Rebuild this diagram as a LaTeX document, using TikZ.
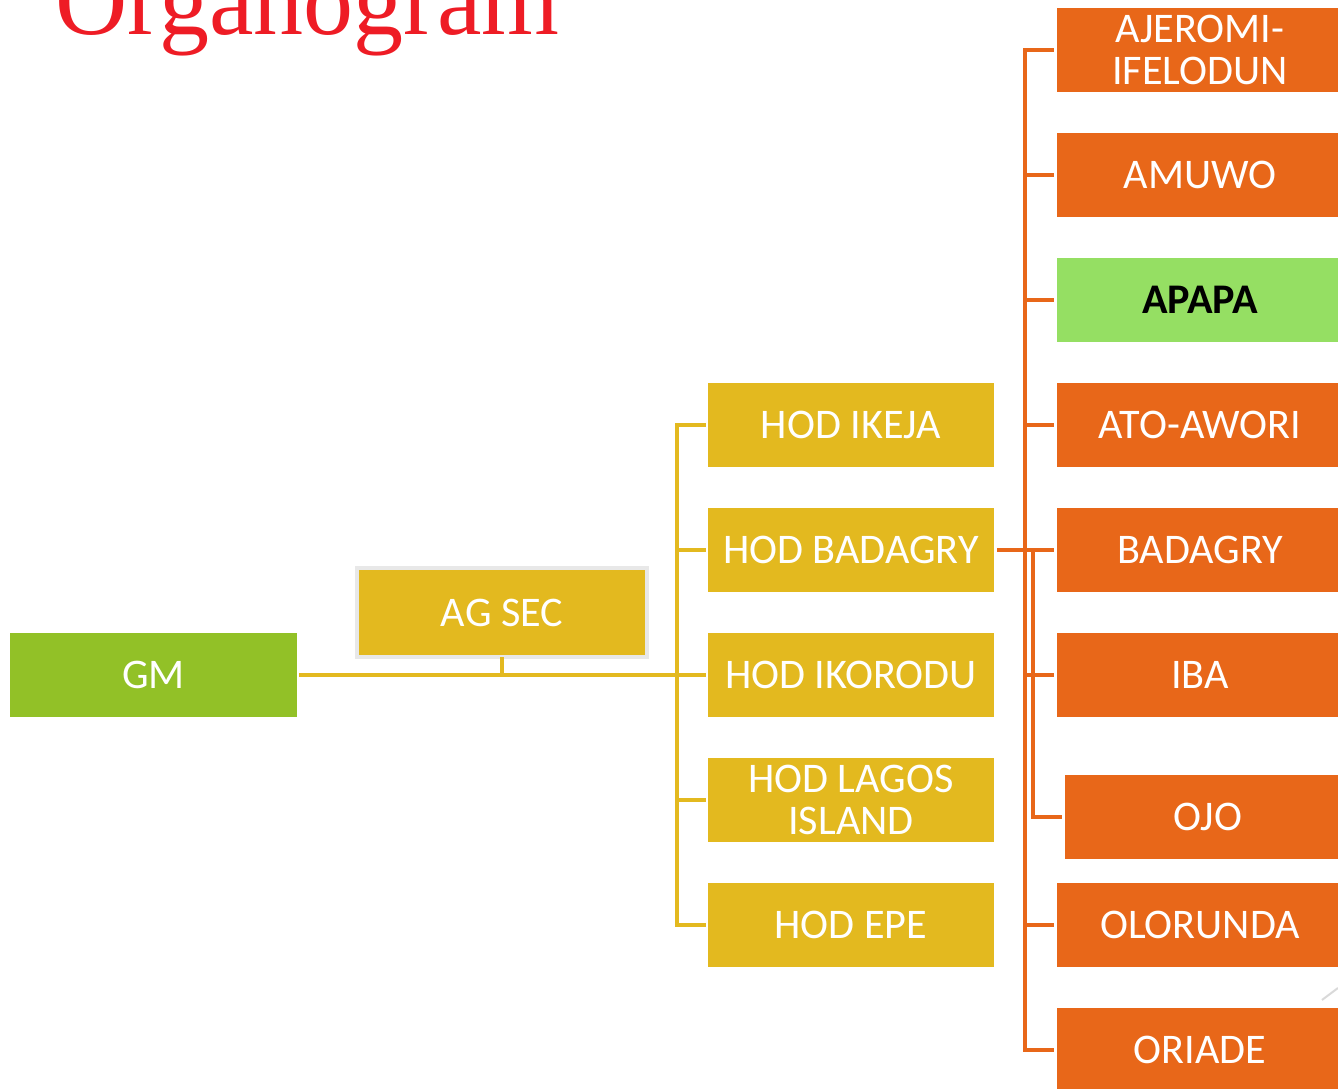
\documentclass[tikz,border=0pt]{standalone}
\usepackage{fontspec}
\newfontfamily\boxfont{Carlito}
\newfontfamily\titlefont{Liberation Serif}
\definecolor{titlered}{HTML}{EE1C25}
\definecolor{gmgreen}{HTML}{92C127}
\definecolor{hodgold}{HTML}{E3B91F}
\definecolor{lgaorange}{HTML}{E86719}
\definecolor{apapagreen}{HTML}{95DF63}
\definecolor{agborder}{HTML}{E8E8E8}
\tikzset{
    unit/.style={minimum width=2.86cm, minimum height=0.84cm, inner sep=0pt,
        align=center, text=white, font=\boxfont\fontsize{12}{11.7}\selectfont},
    hodbox/.style={unit, fill=hodgold},
    lgabox/.style={unit, fill=lgaorange},
    goldline/.style={draw=hodgold, line width=0.04cm, line cap=rect},
    orangeline/.style={draw=lgaorange, line width=0.04cm, line cap=rect}
}
\begin{document}
\begin{tikzpicture}[x=0.01cm, y=-0.01cm]
    \useasboundingbox (0,0) rectangle (1338,1089);

    % Title
    \node[anchor=base west, inner sep=0pt, text=titlered,
          font=\titlefont\fontsize{28.45}{30}\selectfont] (title) at (55,35) {Organogram};

    % Head office
    \node[unit, fill=gmgreen] (gm) at (153.5,675) {GM};
    \node[hodbox, draw=agborder, line width=0.04cm, minimum width=2.90cm,
          minimum height=0.89cm] (agsec) at (502,612.5) {AG SEC};

    % Heads of department
    \node[hodbox] (hodikeja)   at (851,425) {HOD IKEJA};
    \node[hodbox] (hodbadagry) at (851,550) {HOD BADAGRY};
    \node[hodbox] (hodikorodu) at (851,675) {HOD IKORODU};
    \node[hodbox] (hodlagos)   at (851,800) {HOD LAGOS\\ISLAND};
    \node[hodbox] (hodepe)     at (851,925) {HOD EPE};

    % Local government areas
    \node[lgabox] (ajeromi)  at (1200,50)   {AJEROMI-\\IFELODUN};
    \node[lgabox] (amuwo)    at (1200,175)  {AMUWO};
    \node[unit, fill=apapagreen, text=black,
          font=\boxfont\bfseries\fontsize{12}{11.7}\selectfont] (apapa) at (1200,300) {APAPA};
    \node[lgabox] (atoawori) at (1200,425)  {ATO-AWORI};
    \node[lgabox] (badagry)  at (1200,550)  {BADAGRY};
    \node[lgabox] (iba)      at (1200,675)  {IBA};
    \node[lgabox] (ojo)      at (1208,817)  {OJO};
    \node[lgabox] (olorunda) at (1200,925)  {OLORUNDA};
    \node[lgabox] (oriade)   at (1200,1050) {ORIADE};

    % Bus lines
    \coordinate (gbus) at (677,0);
    \coordinate (obus) at (1025,0);
    \coordinate (ojobus) at (1033,0);

    % Gold connectors
    \draw[goldline] ([xshift=0.04cm]gm.east) -- ([xshift=-0.03cm]hodikorodu.west);
    \draw[goldline] (agsec.south) -- (agsec.south |- gm.east);
    \draw[goldline] (hodikeja.west -| gbus) -- (hodepe.west -| gbus);
    \foreach \n in {hodikeja,hodbadagry,hodlagos,hodepe} {
        \draw[goldline] (\n.west -| gbus) -- ([xshift=-0.03cm]\n.west);
    }

    % Orange connectors
    \draw[orangeline] (ajeromi.west -| obus) -- (oriade.west -| obus);
    \foreach \n in {ajeromi,amuwo,apapa,atoawori,iba,olorunda,oriade} {
        \draw[orangeline] (\n.west -| obus) -- ([xshift=-0.04cm]\n.west);
    }
    \draw[orangeline] ([xshift=0.04cm]hodbadagry.east) -- ([xshift=-0.04cm]badagry.west);
    \draw[orangeline] (badagry.west -| ojobus) |- ([xshift=-0.04cm]ojo.west);

    % Corner mark
    \draw[gray!30, line width=0.02cm] (1322,1000) -- (1338,988);
\end{tikzpicture}
\end{document}
